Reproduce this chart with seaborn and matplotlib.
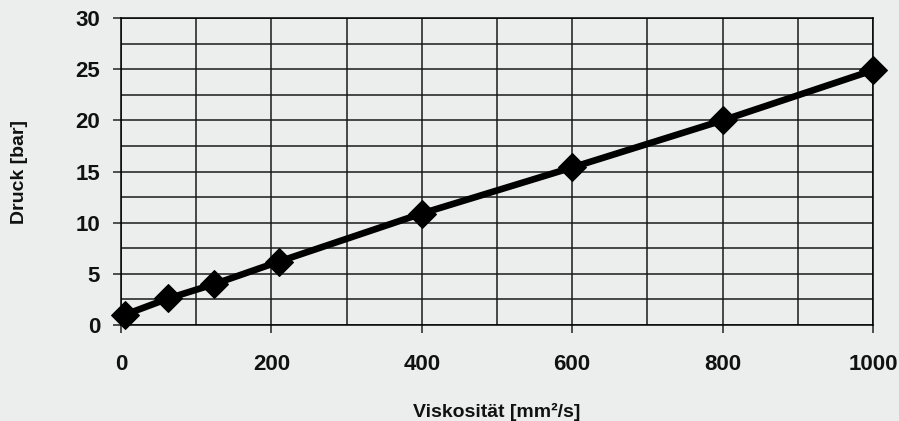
import matplotlib
matplotlib.use("Agg")
import matplotlib.pyplot as plt
import seaborn as sns
import pandas as pd
from matplotlib.ticker import MultipleLocator

# Viskosität [mm²/s] vs. Druck [bar]
viskositaet = [5, 63, 124, 210, 400, 600, 800, 1000]
druck = [1.0, 2.6, 4.0, 6.2, 10.9, 15.4, 20.0, 24.9]

df = pd.DataFrame({"Viskosität [mm²/s]": viskositaet, "Druck [bar]": druck})

bg = "#eceeed"
sns.set_style("white")
plt.rcParams["font.family"] = ["Liberation Sans", "DejaVu Sans"]
plt.rcParams["font.weight"] = "bold"
plt.rcParams["text.color"] = "#111111"
plt.rcParams["axes.labelcolor"] = "#111111"
plt.rcParams["xtick.color"] = "#111111"
plt.rcParams["ytick.color"] = "#111111"

fig = plt.figure(figsize=(8.99, 4.21), dpi=100, facecolor=bg)
ax = fig.add_axes([0.1346, 0.228, 0.8364, 0.729])
ax.set_facecolor(bg)

sns.lineplot(data=df, x="Viskosität [mm²/s]", y="Druck [bar]", ax=ax,
             color="black", linewidth=4.8, marker="D", markersize=14,
             markeredgecolor="black", zorder=5, clip_on=False)

ax.set_xlim(0, 1000)
ax.set_ylim(0, 30)
ax.xaxis.set_major_locator(MultipleLocator(200))
ax.xaxis.set_minor_locator(MultipleLocator(100))
ax.yaxis.set_major_locator(MultipleLocator(5))
ax.yaxis.set_minor_locator(MultipleLocator(2.5))
ax.grid(which="both", color="#1a1a1a", linewidth=1.1)
ax.set_axisbelow(True)
for s in ax.spines.values():
    s.set_color("black")
    s.set_linewidth(1.1)

ax.tick_params(axis="both", which="major", direction="out", length=6, width=1.1,
               color="#222222", labelsize=16, pad=9, left=True, bottom=True)
ax.tick_params(axis="x", which="major", pad=15)
ax.tick_params(which="minor", length=0)
for lab in ax.get_xticklabels() + ax.get_yticklabels():
    lab.set_fontweight("bold")

ax.set_xlabel("Viskosität [mm²/s]", fontsize=14, fontweight="bold", labelpad=20)
ax.set_ylabel("Druck [bar]", fontsize=14, fontweight="bold", labelpad=34)

fig.savefig("out.png", dpi=100, facecolor=bg)
